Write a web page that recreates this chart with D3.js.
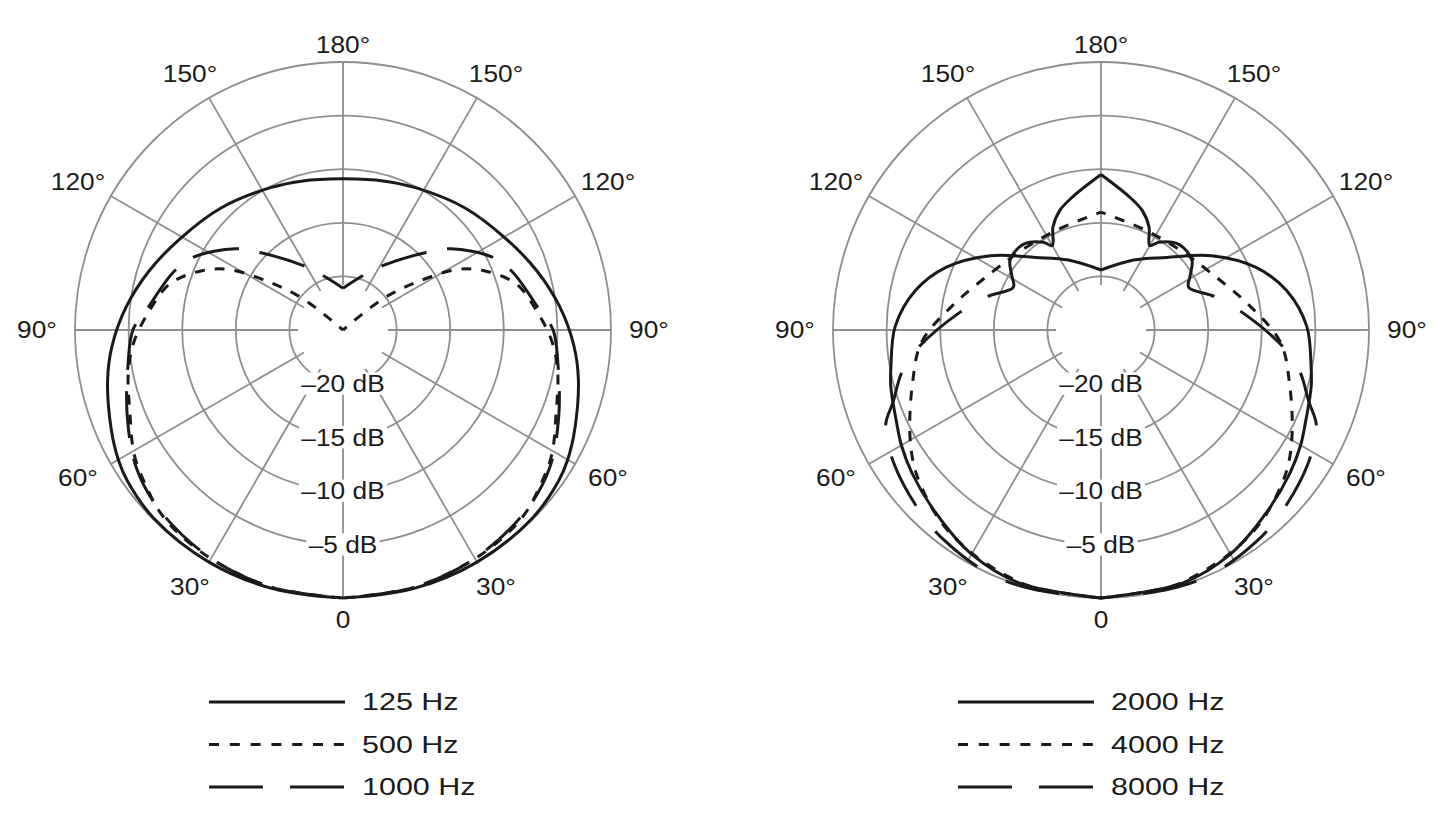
<!DOCTYPE html>
<html>
<head>
<meta charset="utf-8">
<script src="https://cdn.jsdelivr.net/npm/d3@7"></script>
<style>
  body { margin: 0; background: #fff; }
  text { font-family: "Liberation Sans", Arial, sans-serif; fill: #1a1a1a; }
</style>
</head>
<body>
<svg width="1454" height="824"></svg>
<script>
// polar pattern data, one half (0 = front/bottom, 180 = rear/top), mirrored left/right
// levels in dB relative to on-axis
const angles125 = [0, 15, 30, 45, 55, 60, 67, 78, 86, 96, 107, 119, 135, 153, 165, 180];
const db125 = [0, 0, 0, -0.1, -0.45, -0.8, -1.5, -2.55, -3.4, -4.65, -6.1, -7.55, -8.9, -10.1, -10.6, -10.9];

const angles500 = [0, 15, 29, 39, 45, 51, 59, 69, 79, 87, 96, 105, 113, 118, 123, 128, 134, 180];
const db500 = [0, -0.1, -0.35, -0.6, -0.9, -1.5, -2.3, -3.7, -4.6, -5.5, -6.9, -8.3, -10.8, -13.0, -16.8, -20.3, -25, -25];

const angles1000 = [0, 15, 30, 45, 56, 68, 81, 90, 96, 109, 116, 127, 133, 148, 159, 180];
const db1000 = [0, -0.1, -0.4, -1.0, -1.8, -3.3, -4.7, -5.4, -6.6, -8.3, -9.5, -12.4, -14.4, -17.9, -19.5, -21.1];

const angles2000 = [0, 18, 30, 42, 53, 60, 66, 75, 80, 91, 102, 112, 124, 138, 155, 180];
const db2000 = [0, -0.2, -0.85, -2.0, -2.9, -3.5, -4.1, -4.7, -5.1, -5.8, -7.3, -9.4, -12.6, -15.9, -17.8, -19.4];

const angles4000 = [0, 15, 22, 31, 40, 50, 55, 62, 74, 86, 99, 118, 135, 157, 180];
const db4000 = [0, -0.2, -0.5, -1.0, -1.7, -2.9, -3.6, -4.8, -6.7, -8.2, -10.9, -13.5, -14.5, -14.8, -14.0];

const angles8000 = [0, 15, 25, 36, 44, 57, 66, 71, 78, 84, 97, 106.6, 116, 121.7, 127.6, 137.5, 146.6, 150, 155, 161, 168, 180];
const db8000 = [0, 0, 0, -0.5, -1.0, -2.0, -3.0, -4.5, -6.0, -7.7, -11.7, -14.0, -15.9, -15.2, -14.3, -14.2, -15.2, -15.9, -14.4, -13.2, -12.3, -10.5];

// grid
const ringDb = [-20, -15, -10, -5, 0];
const ringLabels = ['–20 dB', '–15 dB', '–10 dB', '–5 dB'];
const spokeAngles = [0, 30, 60, 90, 120, 150, 180, 210, 240, 270, 300, 330];
const tickAngles = [0, 30, 60, 90, 120, 150, 180];
const tickLabels = ['0', '30°', '60°', '90°', '120°', '150°', '180°'];

const R = 268, CY = 330;
const rScale = d3.scaleLinear().domain([-25, 0]).range([0, R]).clamp(true);
const rad = a => a * Math.PI / 180;
const line = d3.line().curve(d3.curveCatmullRom.alpha(0.5));
const svg = d3.select('svg');

const leftSeries = [
  {name: '125 Hz', ang: angles125, db: db125, style: 'solid'},
  {name: '500 Hz', ang: angles500, db: db500, style: 'short'},
  {name: '1000 Hz', ang: angles1000, db: db1000, style: 'long'}
];
const rightSeries = [
  {name: '2000 Hz', ang: angles2000, db: db2000, style: 'solid'},
  {name: '4000 Hz', ang: angles4000, db: db4000, style: 'short'},
  {name: '8000 Hz', ang: angles8000, db: db8000, style: 'longHead'}
];

drawChart(343, leftSeries, 209);
drawChart(1101, rightSeries, 958);

// stretched label (the reference type is wide)
function label(g, x, y, txt, size, sx, anchor, boxed) {
  const lg = g.append('g').attr('transform', `translate(${x},${y}) scale(${sx},1)`);
  const t = lg.append('text')
    .attr('text-anchor', anchor)
    .attr('dominant-baseline', 'central')
    .style('font-size', size + 'px')
    .text(txt);
  if (boxed) {
    const b = t.node().getBBox();
    lg.insert('rect', 'text')
      .attr('x', b.x - 2).attr('y', b.y + 2)
      .attr('width', b.width + 4).attr('height', b.height - 4)
      .attr('fill', '#fff');
  }
}

function drawChart(cx, series, legendX) {
  const g = svg.append('g').attr('transform', `translate(${cx},${CY})`);

  // rings
  g.selectAll('circle.ring')
    .data(ringDb)
    .enter()
    .append('circle')
    .attr('class', 'ring')
    .attr('r', d => rScale(d))
    .attr('fill', 'none')
    .attr('stroke', '#8e8e8e')
    .attr('stroke-width', 1.8);

  // spokes, they stop short of the centre
  g.selectAll('line.spoke')
    .data(spokeAngles)
    .enter()
    .append('line')
    .attr('class', 'spoke')
    .attr('x1', a => 45 * Math.sin(rad(a)))
    .attr('y1', a => 45 * Math.cos(rad(a)))
    .attr('x2', a => R * Math.sin(rad(a)))
    .attr('y2', a => R * Math.cos(rad(a)))
    .attr('stroke', '#8e8e8e')
    .attr('stroke-width', 1.8);

  // dB labels on the front spoke
  ringLabels.forEach((t, i) => label(g, 0, rScale(ringDb[i]), t, 23.5, 1.12, 'middle', true));

  // angle labels both sides
  tickAngles.forEach((a, i) => {
    const sides = (a === 0 || a === 180) ? [1] : [-1, 1];
    let ly = 296 * Math.cos(rad(a));
    if (a === 0) ly = 290;
    if (a === 180) ly = -285;
    sides.forEach(s => {
      label(g, s * 306 * Math.sin(rad(a)), ly, tickLabels[i], 23.5, 1.12, 'middle', false);
    });
  });

  // pattern curves, each half drawn from the rear (top) down to the front
  series.forEach(sr => {
    [-1, 1].forEach(side => {
      const pts = sr.ang.map((a, i) => {
        const r = rScale(sr.db[i]);
        return [side * r * Math.sin(rad(a)), r * Math.cos(rad(a))];
      }).reverse();
      const p = g.append('path')
        .attr('d', line(pts))
        .attr('fill', 'none')
        .attr('stroke', '#1a1a1a')
        .attr('stroke-width', 3)
        .attr('stroke-linejoin', 'round');
      if (sr.style === 'short') {
        p.attr('stroke-dasharray', '10,10').attr('stroke-dashoffset', 5);
      } else if (sr.style === 'long') {
        p.attr('stroke-dasharray', '47,21').attr('stroke-dashoffset', 23.5);
      } else if (sr.style === 'longHead') {
        // the rear lobes are drawn unbroken, dashes start past ~106°
        const n = sr.ang.filter(a => a >= 106).length;
        const tmp = g.append('path').attr('d', line(pts.slice(0, n)));
        const head = tmp.node().getTotalLength();
        tmp.remove();
        const dash = [head, 30];
        for (let k = 0; k < 20; k++) dash.push(55, 32);
        p.attr('stroke-dasharray', dash.join(','));
      }
    });
  });

  // legend
  const lg = svg.append('g');
  series.forEach((sr, i) => {
    const y = 702 + i * 42.5;
    const l = lg.append('line')
      .attr('x1', legendX).attr('x2', legendX + 136)
      .attr('y1', y).attr('y2', y)
      .attr('stroke', '#1a1a1a')
      .attr('stroke-width', 3);
    if (sr.style === 'short') l.attr('stroke-dasharray', '10,10.8');
    if (sr.style === 'long' || sr.style === 'longHead') l.attr('stroke-dasharray', '54,27');
    label(lg, legendX + 153, y, sr.name, 24, 1.27, 'start', false);
  });
}
</script>
</body>
</html>
